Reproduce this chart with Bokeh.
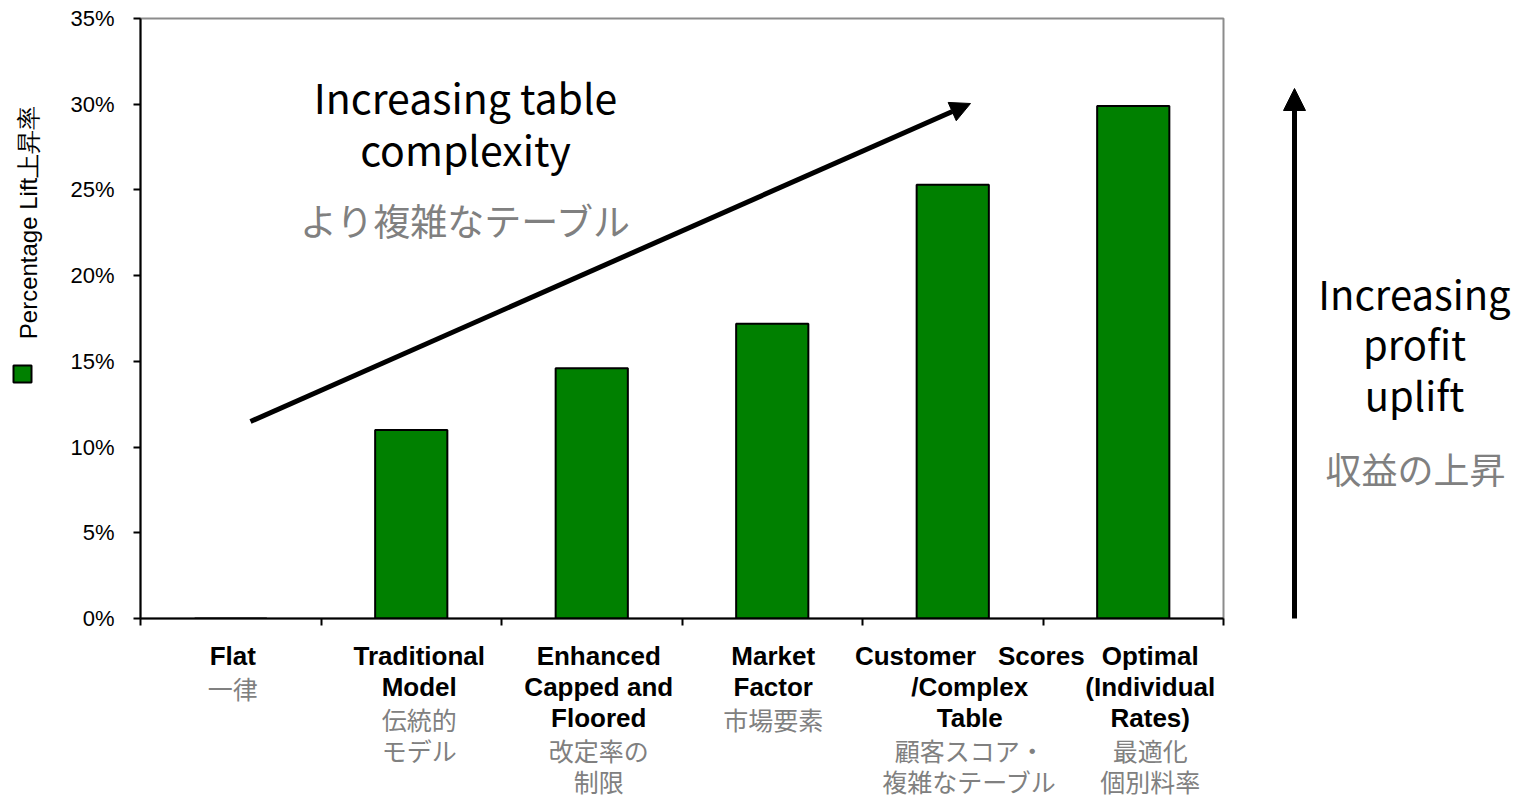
from math import pi
from bokeh.plotting import figure
from bokeh.layouts import row, column
from bokeh.models import (Range1d, FixedTicker, NumeralTickFormatter, Label, Arrow,
                          NormalHead, BoxAnnotation)
from bokeh.embed import file_html
from bokeh.resources import INLINE

# ---------------- data ----------------
categories = ["Flat", "Traditional Model", "Enhanced Capped and Floored",
              "Market Factor", "Customer Scores /Complex Table", "Optimal (Individual Rates)"]
label_en = [["Flat"], ["Traditional", "Model"], ["Enhanced", "Capped and", "Floored"],
            ["Market", "Factor"], ["Customer \u00a0 Scores", "/Complex", "Table"],
            ["Optimal", "(Individual", "Rates)"]]
label_ja = [["一律"], ["伝統的", "モデル"], ["改定率の", "制限"], ["市場要素"],
            ["顧客スコア・", "複雑なテーブル"], ["最適化", "個別料率"]]
lift = [0.0, 0.110, 0.146, 0.172, 0.253, 0.299]
y_ticks = [0.0, 0.05, 0.10, 0.15, 0.20, 0.25, 0.30, 0.35]
series_name = "Percentage Lift上昇率"
title_en = ["Increasing table", "complexity"]
title_ja = "より複雑なテーブル"
side_en = ["Increasing", "profit", "uplift"]
side_ja = "収益の上昇"

# ---------------- layout (page pixels) ----------------
TOTAL_W, TOTAL_H = 1520, 797
LEFT_W = 60                 # strip holding the series label
FL, FR, FT, FB = 140, 1223, 18, 618   # plot frame edges (page px)
MAIN_BOTTOM = 640           # bottom of main figure canvas
RB = 2                      # right border of main figure (room for outline)
MAIN_W = FR + RB - LEFT_W
RIGHT_W = TOTAL_W - LEFT_W - MAIN_W
NCAT = len(categories)
YMAX = 0.35

def px_x(px):
    return (px - FL) / (FR - FL) * NCAT

def px_y(py):
    return (FB - py) / (FB - FT) * YMAX

def helper_fig(w, h, xr, yr):
    f = figure(width=w, height=h, output_backend="svg", toolbar_location=None,
               x_range=xr, y_range=yr, x_axis_type=None, y_axis_type=None,
               min_border=0, min_border_left=0, min_border_right=0,
               min_border_top=0, min_border_bottom=0)
    f.grid.visible = False
    f.outline_line_color = None
    f.background_fill_color = "white"
    f.border_fill_color = "white"
    return f

x_range = Range1d(0, NCAT)

# ---------------- main chart ----------------
p = figure(width=MAIN_W, height=MAIN_BOTTOM, output_backend="svg", toolbar_location=None,
           x_range=x_range, y_range=Range1d(0, YMAX),
           min_border_left=FL - LEFT_W, min_border_right=RB,
           min_border_top=FT, min_border_bottom=MAIN_BOTTOM - FB)
p.grid.visible = False
p.background_fill_color = "white"
p.border_fill_color = "white"
p.outline_line_color = "#8c8c8c"
p.outline_line_width = 2

xs = [i + 0.5 for i in range(NCAT)]
p.vbar(x=xs, top=lift, width=0.4, fill_color="#008000",
       line_color="black", line_width=2)

p.yaxis.ticker = FixedTicker(ticks=y_ticks)
p.yaxis.formatter = NumeralTickFormatter(format="0%")
p.yaxis.axis_line_width = 2
p.yaxis.major_tick_line_width = 2
p.yaxis.major_tick_out = 7
p.yaxis.major_tick_in = 0
p.yaxis.minor_tick_line_color = None
p.yaxis.major_label_text_font = "Liberation Sans"
p.yaxis.major_label_text_font_size = "22px"
p.yaxis.major_label_text_color = "black"
p.yaxis.major_label_standoff = 19

p.xaxis.ticker = FixedTicker(ticks=list(range(NCAT + 1)))
p.xaxis.major_label_overrides = {i: "" for i in range(NCAT + 1)}
p.xaxis.major_label_text_font_size = "1px"
p.xaxis.major_label_standoff = 0
p.xaxis.axis_line_width = 2
p.xaxis.major_tick_line_width = 2
p.xaxis.major_tick_out = 7
p.xaxis.major_tick_in = 0
p.xaxis.minor_tick_line_color = None

for k, t in enumerate(title_en):
    p.add_layout(Label(x=px_x(465), y=px_y(95 + k * 52), text=t, text_align="center",
                       text_baseline="middle", text_font="Noto Sans CJK JP",
                       text_font_size="41px", text_color="black"))
p.add_layout(Label(x=px_x(466), y=px_y(219), text=title_ja, text_align="center",
                   text_baseline="middle", text_font="Noto Sans CJK JP",
                   text_font_size="37px", text_color="#808080"))
p.add_layout(Arrow(x_start=px_x(250), y_start=px_y(421), x_end=px_x(970), y_end=px_y(103),
                   line_width=5, line_color="black",
                   end=NormalHead(size=20, fill_color="black", line_color="black")))

# ---------------- category labels (below the axis) ----------------
lab = figure(width=MAIN_W, height=TOTAL_H - MAIN_BOTTOM, output_backend="svg",
             toolbar_location=None, x_range=x_range,
             y_range=Range1d(TOTAL_H, MAIN_BOTTOM), x_axis_type=None, y_axis_type=None,
             min_border_left=FL - LEFT_W, min_border_right=RB,
             min_border_top=0, min_border_bottom=0)
lab.grid.visible = False
lab.outline_line_color = None
lab.background_fill_color = "white"
lab.border_fill_color = "white"

offsets = [2, 8, 7, 1, 17, 17]
LINE0, LSTEP = 655, 31
for i in range(NCAT):
    r = 0
    for t in label_en[i]:
        lab.add_layout(Label(x=xs[i], y=LINE0 + r * LSTEP, x_offset=offsets[i], text=t,
                             text_align="center", text_baseline="middle",
                             text_font="Liberation Sans", text_font_style="bold",
                             text_font_size="26px", text_color="black"))
        r += 1
    for t in label_ja[i]:
        lab.add_layout(Label(x=xs[i], y=LINE0 + r * LSTEP + 1, x_offset=offsets[i], text=t,
                             text_align="center", text_baseline="middle",
                             text_font="Noto Sans CJK JP", text_font_size="25px",
                             text_color="#808080"))
        r += 1

# ---------------- left strip: series label + swatch ----------------
left = helper_fig(LEFT_W, TOTAL_H, Range1d(0, LEFT_W), Range1d(TOTAL_H, 0))
left.add_layout(Label(x=28, y=222, text=series_name, angle=pi / 2,
                      text_align="center", text_baseline="middle",
                      text_font="Liberation Sans", text_font_size="24px", text_color="black"))
left.add_layout(BoxAnnotation(left=13, right=31, top=365, bottom=382,
                              fill_color="#008000", fill_alpha=1, line_color="black",
                              line_width=2, line_alpha=1))

# ---------------- right strip: profit arrow + text ----------------
x0 = LEFT_W + MAIN_W
right = helper_fig(RIGHT_W, TOTAL_H, Range1d(x0, TOTAL_W), Range1d(TOTAL_H, 0))
right.add_layout(Arrow(x_start=1294, y_start=618, x_end=1294, y_end=88,
                       line_width=5, line_color="black",
                       end=NormalHead(size=22, fill_color="black", line_color="black")))
for k, t in enumerate(side_en):
    right.add_layout(Label(x=1414, y=292 + k * 50.5, text=t, text_align="center",
                           text_baseline="middle", text_font="Noto Sans CJK JP",
                           text_font_size="40px", text_color="black"))
right.add_layout(Label(x=1415, y=467, text=side_ja, text_align="center",
                       text_baseline="middle", text_font="Noto Sans CJK JP",
                       text_font_size="36px", text_color="#808080"))

layout = row(left, column(p, lab), right)
open("out.html", "w").write(file_html(layout, INLINE))
